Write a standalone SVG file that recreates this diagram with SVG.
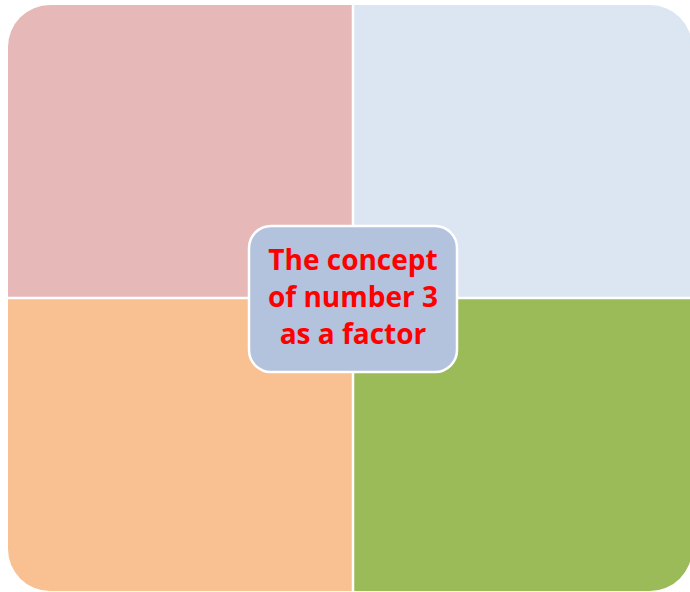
<svg xmlns="http://www.w3.org/2000/svg" width="690" height="592" viewBox="0 0 690 592">
<style>
.lbl{font-family:"Open Sans","Liberation Sans",sans-serif;font-weight:bold;font-size:28px;fill:#FF0000;text-anchor:middle}
.div{stroke:#FFFFFF;stroke-width:2.5}
</style>
<defs>
<clipPath id="outer"><rect x="8" y="5" width="684" height="586" rx="42" ry="42"/></clipPath>
</defs>
<rect width="690" height="592" fill="#FFFFFF"/>
<g clip-path="url(#outer)">
<g id="q1"><rect x="8" y="5" width="345" height="293" fill="#E6B9B8"/></g>
<g id="q2"><rect x="353" y="5" width="339" height="293" fill="#DCE6F2"/></g>
<g id="q3"><rect x="8" y="298" width="345" height="293" fill="#F9C091"/></g>
<g id="q4"><rect x="353" y="298" width="339" height="293" fill="#9BBB59"/></g>
</g>
<g id="dividers">
<line class="div" x1="353" y1="0" x2="353" y2="592"/>
<line class="div" x1="0" y1="298" x2="690" y2="298"/>
</g>
<g id="center">
<rect x="249" y="226" width="208" height="146" rx="22" ry="22" fill="#B3C2DD" stroke="#FFFFFF" stroke-width="2.5"/>
<text class="lbl" x="353" y="270">The concept</text>
<text class="lbl" x="353" y="307">of number 3</text>
<text class="lbl" x="353" y="344">as a factor</text>
</g>
</svg>
